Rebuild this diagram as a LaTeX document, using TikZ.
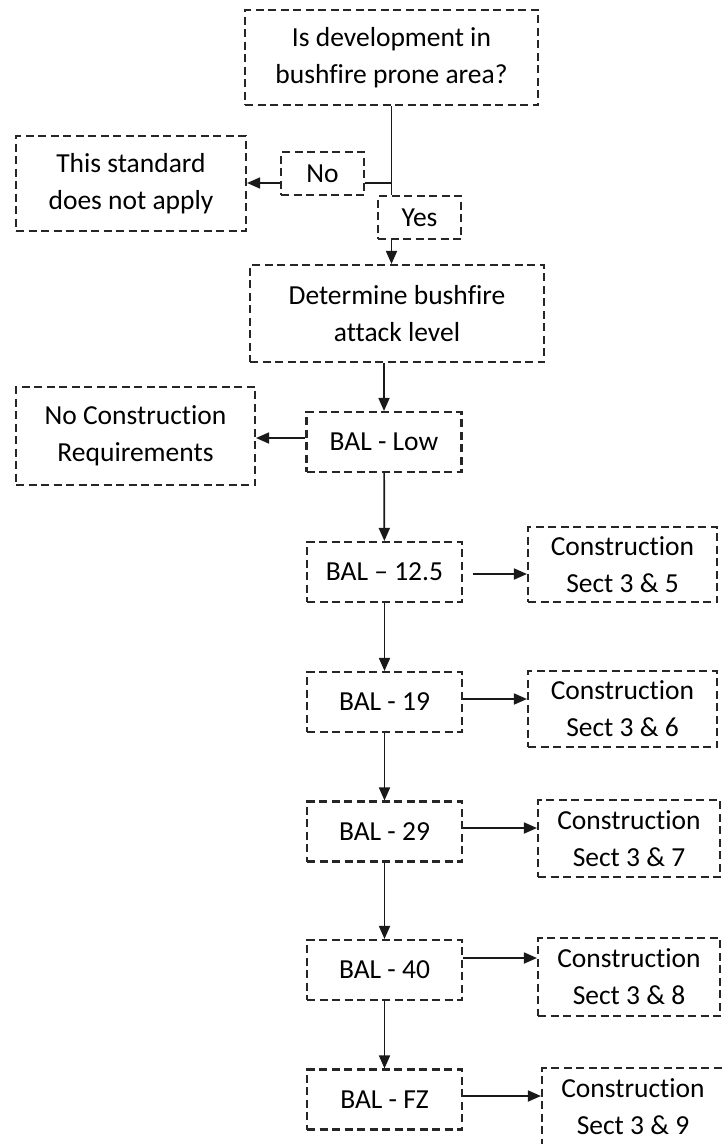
\documentclass[tikz,border=0pt]{standalone}
\usepackage{fontspec}
\setmainfont{Carlito}[Ligatures=NoCommon]
\usetikzlibrary{arrows.meta}

\tikzset{
  box/.style={draw=black!85, dash pattern=on 8pt off 4.5pt, line width=2.1pt,
    align=center, inner sep=0pt, font=\fontsize{27.5}{37}\selectfont},
  balbox/.style={box, minimum width=155pt, minimum height=60pt},
  conbox/.style={box, minimum width=185pt, minimum height=77pt},
  link/.style={line width=1.7pt, black!90},
}

\begin{document}
\begin{tikzpicture}[x=1pt, y=-1pt, >={Triangle[length=13pt,width=11pt]}]
    \useasboundingbox (0,0) rectangle (722,1144);

    % Question
    \node[box, minimum width=293pt, minimum height=95pt] (top) at (391.5,57.5) {Is development in\\bushfire prone area?};
    \node[box, minimum width=230pt, minimum height=95pt] (nsa) at (131,183.5) {This standard\\does not apply};
    \node[box, minimum width=83pt, minimum height=43pt] (no) at (322.5,173.5) {No};
    \node[box, minimum width=83pt, minimum height=43pt] (yes) at (419.5,217.5) {Yes};
    \node[box, minimum width=294pt, minimum height=97pt] (det) at (397,313.5) {Determine bushfire\\attack level};

    % Attack levels
    \node[balbox] (low) at (384,442) {BAL - Low};
    \node[box, minimum width=239pt, minimum height=98pt] (ncr) at (135.5,436) {No Construction\\Requirements};
    \node[balbox] (b125) at (384.5,572) {BAL -- 12.5};
    \node[balbox] (b19) at (384.5,702) {BAL - 19};
    \node[balbox] (b29) at (384.5,831.5) {BAL - 29};
    \node[balbox] (b40) at (384.5,970) {BAL - 40};
    \node[balbox] (bfz) at (384.5,1099.5) {BAL - FZ};

    % Construction sections
    \node[conbox, minimum width=189pt, minimum height=75pt] (c5) at (622.5,564.5) {Construction\\Sect 3 \& 5};
    \node[conbox, minimum width=189pt, minimum height=76pt] (c6) at (622.5,709) {Construction\\Sect 3 \& 6};
    \node[conbox, minimum width=182pt] (c7) at (629,838.5) {Construction\\Sect 3 \& 7};
    \node[conbox, minimum width=182pt, minimum height=78pt] (c8) at (629,977) {Construction\\Sect 3 \& 8};
    \node[conbox, minimum width=182pt, minimum height=78pt] (c9) at (633,1107) {Construction\\Sect 3 \& 9};

    % Yes / No branch
    \draw[link] (top.south) -- (top.south |- yes.north);
    \draw[link] ([yshift=-9.5pt]no.east) -- ([yshift=-9.5pt]no.east -| top.south);
    \draw[link, ->] ([yshift=-9.5pt]no.west) -- ([yshift=-9.5pt]no.west -| nsa.east);
    \draw[link, ->] (yes.south -| top.south) -- (det.north -| top.south);
    \draw[link, ->] (det.south -| low.north) -- (low.north);
    \draw[link, ->] ([yshift=4pt]low.west) -- ([yshift=4pt]low.west -| ncr.east);

    % Down the levels
    \draw[link, ->] (low) -- (b125);
    \draw[link, ->] (b125) -- (b19);
    \draw[link, ->] (b19) -- (b29);
    \draw[link, ->] (b29) -- (b40);
    \draw[link, ->] (b40) -- (bfz);

    % Across to the sections
    \draw[link, ->] ([xshift=10pt,yshift=-2pt]b125.east) -- ([yshift=-2pt]b125.east -| c5.west);
    \draw[link, ->] ([yshift=3pt]b19.east) -- ([yshift=3pt]b19.east -| c6.west);
    \draw[link, ->] ([yshift=3.5pt]b29.east) -- ([yshift=3.5pt]b29.east -| c7.west);
    \draw[link, ->] ([yshift=12pt]b40.east) -- ([yshift=12pt]b40.east -| c8.west);
    \draw[link, ->] ([yshift=3.5pt]bfz.east) -- ([yshift=3.5pt]bfz.east -| c9.west);
\end{tikzpicture}
\end{document}
